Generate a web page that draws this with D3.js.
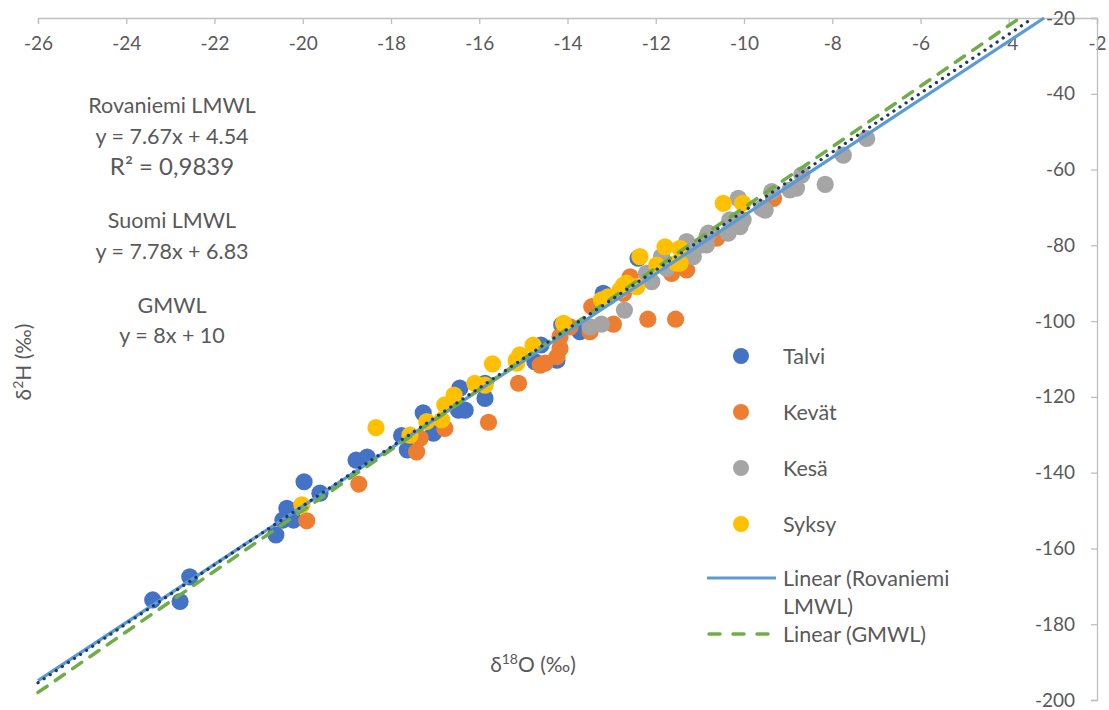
<!DOCTYPE html>
<html>
<head>
<meta charset="utf-8">
<script src="https://cdn.jsdelivr.net/npm/d3@7"></script>
<style>
  html, body { margin: 0; padding: 0; background: #fff; }
  svg { display: block; font-family: Lato, "Open Sans", sans-serif; }
</style>
</head>
<body>
<svg id="chart" width="1109" height="710"></svg>
<script>
// ---- data ----
const xTicks = [-26, -24, -22, -20, -18, -16, -14, -12, -10, -8, -6, -4, -2];
const yTicks = [-20, -40, -60, -80, -100, -120, -140, -160, -180, -200];

const talvi = [
  [-23.40, -173.6], [-22.78, -174.0], [-22.56, -167.5], [-20.61, -156.4], [-20.36, -149.4],
  [-20.45, -152.5], [-20.21, -152.5], [-19.97, -142.4], [-19.61, -145.4], [-18.79, -136.7],
  [-18.54, -135.9], [-17.76, -130.2], [-17.63, -134.0], [-17.27, -124.2], [-17.04, -129.6],
  [-16.44, -117.7], [-16.47, -123.5], [-16.32, -123.5], [-15.87, -116.4], [-15.87, -120.4],
  [-14.74, -110.7], [-14.60, -106.3], [-14.24, -110.3], [-14.13, -101.0], [-13.72, -102.8],
  [-13.15, -93.1], [-12.40, -83.4], [-13.19, -92.7]
];
const kevat = [
  [-19.91, -152.7], [-18.73, -143.0], [-17.42, -134.5], [-17.34, -130.9], [-16.78, -128.3],
  [-15.79, -126.7], [-15.11, -116.4], [-14.62, -111.6], [-14.51, -111.1], [-14.17, -107.2],
  [-14.24, -109.4], [-13.49, -102.8], [-13.45, -96.2], [-12.96, -100.8], [-12.18, -99.5],
  [-11.55, -99.5], [-12.58, -88.3], [-11.64, -87.4], [-11.30, -86.5], [-12.73, -92.7],
  [-10.62, -78.1], [-9.33, -67.6], [-10.66, -77.7], [-14.17, -104.1], [-13.94, -101.5]
];
const kesa = [
  [-13.49, -101.5], [-13.23, -100.8], [-12.71, -97.1], [-12.09, -89.6], [-12.21, -87.4],
  [-11.87, -83.0], [-11.15, -83.0], [-11.30, -79.0], [-11.41, -80.8], [-10.84, -77.7],
  [-10.96, -79.9], [-10.81, -76.8], [-10.36, -76.8], [-10.09, -75.1], [-10.32, -73.3],
  [-10.02, -73.3], [-10.13, -67.6], [-9.52, -70.7], [-9.37, -65.8], [-8.96, -65.4],
  [-8.81, -64.9], [-8.69, -61.4], [-8.16, -63.9], [-7.75, -56.2], [-7.22, -51.8],
  [-9.60, -70.2], [-10.85, -79.9], [-11.75, -86.1]
];
const syksy = [
  [-20.02, -148.5], [-18.34, -128.1], [-17.57, -130.1], [-17.19, -126.5], [-16.85, -126.1],
  [-16.78, -122.1], [-16.57, -119.5], [-16.10, -116.4], [-15.87, -116.9], [-15.70, -111.3],
  [-15.08, -108.9], [-14.78, -106.3], [-14.09, -100.6], [-13.23, -94.4], [-13.08, -93.6],
  [-12.73, -90.5], [-12.43, -90.9], [-12.36, -83.0], [-11.98, -85.2], [-11.79, -80.4],
  [-11.45, -80.8], [-11.45, -84.7], [-10.47, -68.9], [-10.03, -68.9], [-12.81, -91.8],
  [-12.66, -90.0], [-15.15, -111.1], [-15.16, -110.3], [-11.53, -84.7]
];
const seriesNames = ["Talvi", "Kevät", "Kesä", "Syksy"];
const seriesColors = ["#4472C4", "#ED7D31", "#A5A5A5", "#FFC000"];

// lines: slope, intercept
const rovaniemi = [7.67, 4.54];
const suomi = [7.78, 6.83];
const gmwl = [8, 10];

const annotations = [
  ["Rovaniemi LMWL", 0], ["y = 7.67x + 4.54", 0], ["R² = 0,9839", 1],
  ["Suomi LMWL", 0], ["y = 7.78x + 6.83", 0],
  ["GMWL", 0], ["y = 8x + 10", 0]
];

// ---- chart ----
const svg = d3.select("#chart");
const pLeft = 38, pRight = 1097, pTop = 18, pBottom = 700;
const x = d3.scaleLinear().domain([-26, -2]).range([pLeft, pRight]);
const y = d3.scaleLinear().domain([-20, -200]).range([pTop, pBottom]);
const textColor = "#595959";
const axisColor = "#BFBFBF";
const fmt = d => String(d);

// top x axis
const xAxis = svg.append("g").attr("transform", `translate(0,${pTop})`)
  .call(d3.axisBottom(x).tickValues(xTicks).tickSize(6).tickPadding(13).tickFormat(fmt));
xAxis.select(".domain").attr("stroke", axisColor).attr("stroke-width", 1.3);
xAxis.selectAll(".tick line").attr("stroke", axisColor).attr("stroke-width", 1.3);
xAxis.selectAll("text").attr("fill", textColor).style("font-size", "19px")
  .style("font-family", "Lato, sans-serif");

// right y axis
const yAxis = svg.append("g").attr("transform", `translate(${pRight},0)`)
  .call(d3.axisLeft(y).tickValues(yTicks).tickSize(6).tickPadding(16).tickFormat(fmt));
yAxis.select(".domain").attr("stroke", axisColor).attr("stroke-width", 1.3);
yAxis.selectAll(".tick line").attr("stroke", axisColor).attr("stroke-width", 1.3);
yAxis.selectAll("text").attr("fill", textColor).style("font-size", "19px")
  .style("font-family", "Lato, sans-serif");

// points
const allSeries = [talvi, kevat, kesa, syksy];
allSeries.forEach((data, i) => {
  svg.append("g").selectAll("circle").data(data).join("circle")
    .attr("cx", d => x(d[0])).attr("cy", d => y(d[1]))
    .attr("r", 8.6).attr("fill", seriesColors[i]);
});

// trend lines, from x=-26 up to y=-20
function lineEnds(p) {
  const x0 = -26, y0 = p[0] * x0 + p[1];
  const y1 = -20, x1 = (y1 - p[1]) / p[0];
  return [[x0, y0], [x1, y1]];
}
const lineGen = d3.line().x(d => x(d[0])).y(d => y(d[1]));
svg.append("path").attr("d", lineGen(lineEnds(rovaniemi)))
  .attr("stroke", "#5B9BD5").attr("stroke-width", 3.2).attr("fill", "none");
svg.append("path").attr("d", lineGen(lineEnds(gmwl)))
  .attr("stroke", "#70AD47").attr("stroke-width", 3.5).attr("fill", "none")
  .attr("stroke-dasharray", "11,10").attr("stroke-linecap", "round");
svg.append("path").attr("d", lineGen(lineEnds(suomi)))
  .attr("stroke", "#203864").attr("stroke-width", 3.2).attr("fill", "none")
  .attr("stroke-dasharray", "0.1,7.2").attr("stroke-linecap", "round");

// annotation text
const annY = [105, 136, 167, 220, 251, 305, 335];
annotations.forEach((a, i) => {
  svg.append("text").attr("x", 172).attr("y", annY[i]).attr("dy", "0.35em")
    .attr("text-anchor", "middle").attr("fill", textColor)
    .style("font-size", a[1] ? "24px" : "21.5px").text(a[0]);
});

// axis titles
svg.append("text").attr("transform", "translate(24,362) rotate(-90)")
  .attr("text-anchor", "middle").attr("dy", "0.35em").attr("fill", textColor)
  .style("font-size", "21px")
  .html('δ<tspan baseline-shift="super" font-size="14px">2</tspan>H (‰)');
svg.append("text").attr("x", 533).attr("y", 665).attr("dy", "0.35em")
  .attr("text-anchor", "middle").attr("fill", textColor)
  .style("font-size", "21px")
  .html('δ<tspan baseline-shift="super" font-size="14px">18</tspan>O (‰)');

// legend
const legFont = "21.5px";
const legY = [356, 412, 468, 524];
seriesNames.forEach((n, i) => {
  svg.append("circle").attr("cx", 741).attr("cy", legY[i]).attr("r", 8).attr("fill", seriesColors[i]);
  svg.append("text").attr("x", 783).attr("y", legY[i]).attr("dy", "0.35em")
    .attr("fill", textColor).style("font-size", legFont).text(n);
});
svg.append("line").attr("x1", 707).attr("x2", 776).attr("y1", 578).attr("y2", 578)
  .attr("stroke", "#5B9BD5").attr("stroke-width", 3.2);
svg.append("text").attr("x", 783).attr("y", 578).attr("dy", "0.35em")
  .attr("fill", textColor).style("font-size", legFont).text("Linear (Rovaniemi");
svg.append("text").attr("x", 783).attr("y", 606).attr("dy", "0.35em")
  .attr("fill", textColor).style("font-size", legFont).text("LMWL)");
svg.append("line").attr("x1", 709).attr("x2", 776).attr("y1", 634).attr("y2", 634)
  .attr("stroke", "#70AD47").attr("stroke-width", 3.5)
  .attr("stroke-dasharray", "11,13").attr("stroke-linecap", "round");
svg.append("text").attr("x", 783).attr("y", 634).attr("dy", "0.35em")
  .attr("fill", textColor).style("font-size", legFont).text("Linear (GMWL)");
</script>
</body>
</html>
